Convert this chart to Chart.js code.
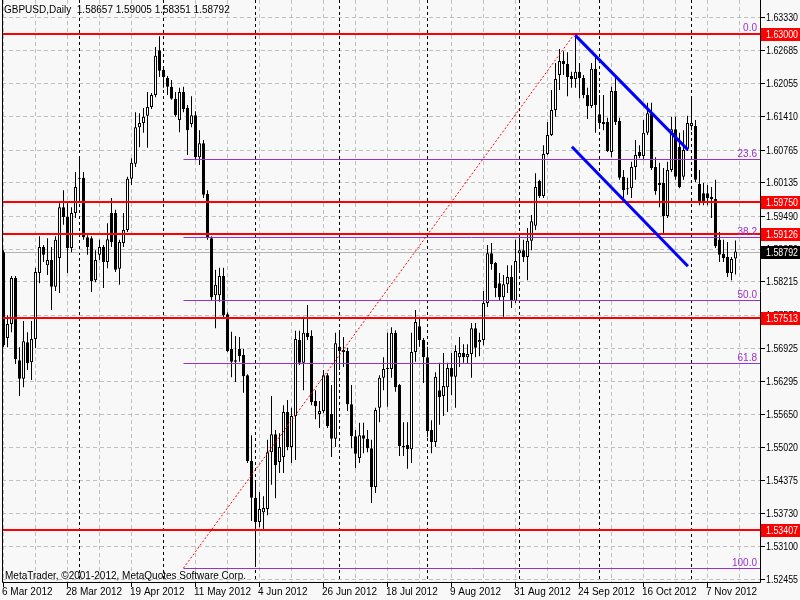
<!DOCTYPE html>
<html>
<head>
<meta charset="utf-8">
<title>GBPUSD,Daily</title>
<script src="https://cdn.jsdelivr.net/npm/chart.js@4.4.1/dist/chart.umd.min.js"></script>
<style>
  html, body { margin: 0; padding: 0; background: #f8f8f8; }
  #wrap { width: 800px; height: 600px; }
</style>
</head>
<body>
<div id="wrap"><canvas id="chart" width="800" height="600"></canvas></div>
<script>
// GBPUSD daily bars, 6 Mar 2012 .. 16 Nov 2012 (one value per trading day)
const openPrices = [
  1.5878, 1.5712, 1.5739, 1.5828, 1.5669, 1.5633, 1.5704, 1.5665, 1.5710, 1.5838,
  1.5888, 1.5853, 1.5863, 1.5811, 1.5867, 1.5965, 1.5946, 1.5886, 1.5954, 1.6020,
  1.6022, 1.5907, 1.5905, 1.5824, 1.5873, 1.5888, 1.5859, 1.5954, 1.5954, 1.5846,
  1.5896, 1.5921, 1.6020, 1.6049, 1.6120, 1.6128, 1.6142, 1.6159, 1.6182, 1.6269,
  1.6231, 1.6215, 1.6198, 1.6175, 1.6134, 1.6188, 1.6157, 1.6126, 1.6143, 1.6062,
  1.6089, 1.5991, 1.5905, 1.5795, 1.5795, 1.5832, 1.5758, 1.5691, 1.5669, 1.5691,
  1.5679, 1.5640, 1.5474, 1.5403, 1.5356, 1.5375, 1.5381, 1.5491, 1.5526, 1.5472,
  1.5482, 1.5569, 1.5501, 1.5561, 1.5708, 1.5664, 1.5722, 1.5716, 1.5590, 1.5565,
  1.5571, 1.5640, 1.5565, 1.5517, 1.5695, 1.5689, 1.5687, 1.5584, 1.5522, 1.5480,
  1.5524, 1.5517, 1.5499, 1.5424, 1.5577, 1.5635, 1.5652, 1.5652, 1.5722, 1.5621,
  1.5503, 1.5505, 1.5497, 1.5685, 1.5735, 1.5708, 1.5675, 1.5534, 1.5511, 1.5611,
  1.5600, 1.5617, 1.5654, 1.5637, 1.5675, 1.5683, 1.5675, 1.5681, 1.5731, 1.5704,
  1.5708, 1.5780, 1.5876, 1.5857, 1.5818, 1.5791, 1.5816, 1.5830, 1.5784, 1.5876,
  1.5882, 1.5869, 1.5900, 1.5929, 1.6016, 1.5987, 1.6068, 1.6105, 1.6153, 1.6221,
  1.6248, 1.6242, 1.6219, 1.6213, 1.6227, 1.6215, 1.6182, 1.6161, 1.6233, 1.6145,
  1.6130, 1.6130, 1.6072, 1.6190, 1.6132, 1.6024, 1.6000, 1.6002, 1.6043, 1.6072,
  1.6064, 1.6109, 1.6147, 1.6043, 1.6012, 1.6012, 1.5948, 1.6037, 1.6116, 1.6082,
  1.6024, 1.6078, 1.6122, 1.6122, 1.6010, 1.5992, 1.5992, 1.5985, 1.5981, 1.5902,
  1.5875, 1.5869, 1.5838, 1.58657
];
const highPrices = [
  1.5882, 1.5756, 1.5832, 1.5832, 1.5694, 1.5745, 1.5723, 1.5745, 1.5848, 1.5909,
  1.5892, 1.5905, 1.5888, 1.5909, 1.5973, 1.5998, 1.5973, 1.5965, 1.6033, 1.6060,
  1.6033, 1.5911, 1.5909, 1.5882, 1.5902, 1.5892, 1.5934, 1.5983, 1.5960, 1.5902,
  1.5954, 1.6024, 1.6060, 1.6149, 1.6147, 1.6157, 1.6188, 1.6186, 1.6275, 1.6296,
  1.6238, 1.6219, 1.6211, 1.6188, 1.6196, 1.6198, 1.6163, 1.6180, 1.6151, 1.6114,
  1.6095, 1.5998, 1.5909, 1.5844, 1.5848, 1.5848, 1.5762, 1.5724, 1.5716, 1.5714,
  1.5691, 1.5642, 1.5524, 1.5437, 1.5414, 1.5406, 1.5515, 1.5600, 1.5534, 1.5528,
  1.5582, 1.5592, 1.5577, 1.5726, 1.5726, 1.5753, 1.5776, 1.5727, 1.5611, 1.5590,
  1.5650, 1.5644, 1.5621, 1.5722, 1.5727, 1.5714, 1.5693, 1.5621, 1.5534, 1.5548,
  1.5548, 1.5534, 1.5515, 1.5577, 1.5640, 1.5675, 1.5722, 1.5733, 1.5727, 1.5623,
  1.5549, 1.5549, 1.5722, 1.5766, 1.5749, 1.5712, 1.5695, 1.5553, 1.5646, 1.5664,
  1.5683, 1.5664, 1.5683, 1.5698, 1.5714, 1.5700, 1.5700, 1.5741, 1.5741, 1.5722,
  1.5803, 1.5892, 1.5896, 1.5859, 1.5838, 1.5834, 1.5853, 1.5853, 1.5902, 1.5907,
  1.5902, 1.5925, 1.5950, 1.6031, 1.6018, 1.6085, 1.6130, 1.6192, 1.6244, 1.6271,
  1.6267, 1.6265, 1.6227, 1.6300, 1.6244, 1.6221, 1.6196, 1.6244, 1.6260, 1.6182,
  1.6182, 1.6138, 1.6198, 1.6217, 1.6138, 1.6037, 1.6022, 1.6053, 1.6095, 1.6085,
  1.6134, 1.6167, 1.6167, 1.6062, 1.6051, 1.6041, 1.6053, 1.6140, 1.6140, 1.6109,
  1.6114, 1.6142, 1.6176, 1.6134, 1.6037, 1.6012, 1.6008, 1.6004, 1.6018, 1.5917,
  1.5902, 1.5898, 1.5869, 1.59005
];
const lowPrices = [
  1.5694, 1.5694, 1.5723, 1.5662, 1.5600, 1.5617, 1.5650, 1.5631, 1.5692, 1.5818,
  1.5859, 1.5834, 1.5766, 1.5803, 1.5799, 1.5931, 1.5838, 1.5878, 1.5944, 1.5979,
  1.5902, 1.5873, 1.5801, 1.5820, 1.5863, 1.5809, 1.5847, 1.5888, 1.5840, 1.5815,
  1.5888, 1.5917, 1.6008, 1.6043, 1.6081, 1.6109, 1.6080, 1.6155, 1.6178, 1.6217,
  1.6196, 1.6182, 1.6173, 1.6140, 1.6110, 1.6149, 1.6066, 1.6120, 1.6056, 1.6047,
  1.5983, 1.5902, 1.5785, 1.5731, 1.5782, 1.5751, 1.5685, 1.5636, 1.5627, 1.5666,
  1.5606, 1.5470, 1.5358, 1.5269, 1.5346, 1.5340, 1.5369, 1.5428, 1.5402, 1.5451,
  1.5451, 1.5495, 1.5470, 1.5476, 1.5660, 1.5611, 1.5708, 1.5582, 1.5555, 1.5538,
  1.5567, 1.5538, 1.5482, 1.5501, 1.5650, 1.5656, 1.5571, 1.5499, 1.5460, 1.5470,
  1.5489, 1.5491, 1.5393, 1.5412, 1.5549, 1.5611, 1.5579, 1.5635, 1.5608, 1.5484,
  1.5484, 1.5459, 1.5470, 1.5666, 1.5695, 1.5625, 1.5520, 1.5489, 1.5501, 1.5544,
  1.5561, 1.5569, 1.5602, 1.5577, 1.5656, 1.5664, 1.5662, 1.5635, 1.5675, 1.5677,
  1.5698, 1.5772, 1.5844, 1.5791, 1.5785, 1.5753, 1.5799, 1.5770, 1.5780, 1.5844,
  1.5859, 1.5824, 1.5882, 1.5921, 1.5983, 1.5983, 1.6066, 1.6103, 1.6140, 1.6192,
  1.6221, 1.6180, 1.6196, 1.6196, 1.6176, 1.6176, 1.6136, 1.6157, 1.6109, 1.6122,
  1.6114, 1.6072, 1.6062, 1.6124, 1.6018, 1.5983, 1.5989, 1.5983, 1.6018, 1.6060,
  1.6056, 1.6105, 1.6037, 1.5989, 1.5965, 1.5915, 1.5944, 1.6033, 1.6018, 1.6002,
  1.6018, 1.6074, 1.6114, 1.6014, 1.5969, 1.5969, 1.5969, 1.5944, 1.5886, 1.5859,
  1.5859, 1.5830, 1.5824, 1.58351
];
const closePrices = [
  1.5698, 1.5739, 1.5828, 1.5671, 1.5633, 1.5706, 1.5663, 1.5710, 1.5840, 1.5888,
  1.5873, 1.5863, 1.5811, 1.5902, 1.5965, 1.5946, 1.5886, 1.5954, 1.6004, 1.6022,
  1.5907, 1.5888, 1.5822, 1.5863, 1.5888, 1.5859, 1.5903, 1.5898, 1.5844, 1.5898,
  1.5921, 1.6020, 1.6051, 1.6120, 1.6128, 1.6140, 1.6159, 1.6182, 1.6258, 1.6229,
  1.6217, 1.6198, 1.6175, 1.6143, 1.6188, 1.6155, 1.6114, 1.6143, 1.6062, 1.6089,
  1.5989, 1.5907, 1.5791, 1.5815, 1.5832, 1.5756, 1.5687, 1.5666, 1.5666, 1.5677,
  1.5638, 1.5474, 1.5403, 1.5356, 1.5381, 1.5383, 1.5491, 1.5526, 1.5466, 1.5501,
  1.5569, 1.5501, 1.5561, 1.5710, 1.5664, 1.5722, 1.5714, 1.5588, 1.5580, 1.5571,
  1.5640, 1.5542, 1.5517, 1.5702, 1.5687, 1.5685, 1.5584, 1.5522, 1.5488, 1.5524,
  1.5517, 1.5499, 1.5424, 1.5573, 1.5635, 1.5652, 1.5654, 1.5722, 1.5617, 1.5503,
  1.5501, 1.5497, 1.5685, 1.5743, 1.5708, 1.5675, 1.5532, 1.5511, 1.5637, 1.5598,
  1.5619, 1.5654, 1.5637, 1.5687, 1.5683, 1.5675, 1.5681, 1.5731, 1.5693, 1.5708,
  1.5780, 1.5876, 1.5855, 1.5809, 1.5791, 1.5816, 1.5830, 1.5784, 1.5861, 1.5882,
  1.5869, 1.5900, 1.5938, 1.6004, 1.5987, 1.6068, 1.6105, 1.6153, 1.6213, 1.6248,
  1.6242, 1.6217, 1.6213, 1.6227, 1.6215, 1.6182, 1.6161, 1.6233, 1.6163, 1.6128,
  1.6126, 1.6074, 1.6190, 1.6130, 1.6022, 1.5998, 1.6002, 1.6043, 1.6066, 1.6064,
  1.6109, 1.6147, 1.6041, 1.5996, 1.6008, 1.5948, 1.6037, 1.6116, 1.6024, 1.6004,
  1.6076, 1.6128, 1.6128, 1.6018, 1.5975, 1.5975, 1.5983, 1.5981, 1.5890, 1.5873,
  1.5867, 1.5838, 1.5865, 1.58792
];

// Axis ticks
const priceTicks = [1.63330, 1.62685, 1.62055, 1.61410, 1.60765, 1.60135, 1.59490, 1.58850, 1.58215,
                    1.57570, 1.56925, 1.56295, 1.55650, 1.55020, 1.54375, 1.53730, 1.53100, 1.52455];
const dateTickBars = [0, 16, 32, 48, 64, 80, 96, 112, 128, 144, 160, 176];
const dateTickLabels = ["6 Mar 2012", "28 Mar 2012", "19 Apr 2012", "11 May 2012", "4 Jun 2012", "26 Jun 2012",
                        "18 Jul 2012", "9 Aug 2012", "31 Aug 2012", "24 Sep 2012", "16 Oct 2012", "7 Nov 2012"];
const monthStartBars = [19, 40, 63, 84, 106, 129, 149, 172];

// Objects drawn on the chart
const levelPrices = [1.63000, 1.59750, 1.59126, 1.57513, 1.53407];
const bidPrice = 1.58792;
const fibRatios = [0, 23.6, 38.2, 50, 61.8, 100];
const fibAnchorBars = [45, 143];
const fibAnchorPrices = [1.5267, 1.6303];
const channelUpperBars = [142.9, 171.1];
const channelUpperPrices = [1.6298, 1.6076];
const channelLowerBars = [142.1, 171.1];
const channelLowerPrices = [1.6082, 1.5851];

const colors = {
  grid: '#c0c0c0',
  level: '#ff0000',
  fib: '#9932cc',
  channel: '#0000ff',
  bid: '#b4b4b4',
  text: '#000000'
};
const FONT = "10px 'Liberation Sans', Arial, sans-serif";
const AXIS_TEXT_W = 32;

const X_MIN = -0.375, X_MAX = 189.125;
const barIdx = openPrices.map((_, i) => i);
const fibPrice = r => fibAnchorPrices[1] - (fibAnchorPrices[1] - fibAnchorPrices[0]) * r / 100;

// horizontal lines get snapped to whole pixels after layout (see snapLines)
function hline(price, color, width, order, fromBar) {
  return {
    type: 'line',
    data: [{ x: fromBar === undefined ? X_MIN : fromBar, y: price }, { x: X_MAX, y: price }],
    borderColor: color, borderWidth: width, pointRadius: 0, fill: false, order, snap: true
  };
}
function segment(bars, prices, color, width, order, dash) {
  return {
    type: 'line',
    data: bars.map((b, k) => ({ x: b, y: prices[k] })),
    borderColor: color, borderWidth: width, borderDash: dash || [], pointRadius: 0, fill: false, order
  };
}

const datasets = [
  {
    type: 'bar',
    data: barIdx.map(i => ({ x: i, y: [openPrices[i], closePrices[i]] })),
    backgroundColor: ctx => closePrices[ctx.dataIndex] >= openPrices[ctx.dataIndex] ? '#ffffff' : '#000000',
    borderColor: '#000000', borderWidth: 1, borderSkipped: false,
    barThickness: 3, grouped: false, minBarLength: 1, inflateAmount: 0, order: 5
  },
  {
    type: 'bar',
    data: barIdx.map(i => ({ x: i, y: [lowPrices[i], highPrices[i]] })),
    backgroundColor: '#000000', borderWidth: 0,
    barThickness: 1, grouped: false, inflateAmount: 0, order: 6
  },
  hline(bidPrice, colors.bid, 1, 7)
];
fibRatios.forEach(r => datasets.push(hline(fibPrice(r), colors.fib, 1, 3, fibAnchorBars[0])));
datasets.push(segment(fibAnchorBars, fibAnchorPrices, colors.level, 1, 2, [2, 2]));
levelPrices.forEach(p => datasets.push(hline(p, colors.level, 2, 2)));
datasets.push(segment(channelUpperBars, channelUpperPrices, colors.channel, 3, 1));
datasets.push(segment(channelLowerBars, channelLowerPrices, colors.channel, 3, 1));

function priceBox(ctx, py, label, bg) {
  ctx.fillStyle = bg;
  ctx.fillRect(761, Math.round(py) - 6, 39, 13);
  ctx.fillStyle = '#ffffff';
  ctx.fillText(label, 766, Math.round(py) + 4, AXIS_TEXT_W);
}

const snapLines = {
  id: 'snapLines',
  afterDatasetsUpdate(chart) {
    chart.data.datasets.forEach((ds, i) => {
      if (!ds.snap) return;
      const odd = ds.borderWidth % 2 === 1;
      chart.getDatasetMeta(i).data.forEach(pt => {
        pt.y = Math.round(pt.y) + (odd ? 0.5 : 0);
      });
    });
  }
};

const mtDecor = {
  id: 'mtDecor',
  beforeDatasetsDraw(chart) {
    const { ctx, chartArea: a, scales: { x, y } } = chart;
    ctx.save();
    ctx.lineWidth = 1;
    ctx.strokeStyle = colors.grid;
    ctx.setLineDash([4, 3]);
    priceTicks.forEach(p => {
      const py = Math.round(y.getPixelForValue(p)) + 0.5;
      ctx.beginPath(); ctx.moveTo(a.left, py); ctx.lineTo(a.right, py); ctx.stroke();
    });
    for (let b = 0; b <= openPrices.length; b += 8) {
      if (monthStartBars.includes(b)) continue;
      const px = Math.floor(x.getPixelForValue(b)) + 0.5;
      ctx.beginPath(); ctx.moveTo(px, a.top); ctx.lineTo(px, a.bottom); ctx.stroke();
    }
    ctx.strokeStyle = '#000000';
    ctx.setLineDash([3, 3]);
    monthStartBars.forEach(b => {
      const px = Math.floor(x.getPixelForValue(b)) + 0.5;
      ctx.beginPath(); ctx.moveTo(px, a.top); ctx.lineTo(px, a.bottom); ctx.stroke();
    });
    ctx.restore();
  },
  afterDatasetsDraw(chart) {
    const { ctx, chartArea: a, scales: { x, y } } = chart;
    ctx.save();
    ctx.lineWidth = 1;
    ctx.strokeStyle = '#000000';
    ctx.setLineDash([]);
    // frame: left edge, bottom axis, right price axis
    ctx.beginPath();
    ctx.moveTo(a.left + 0.5, a.top); ctx.lineTo(a.left + 0.5, a.bottom + 0.5);
    ctx.lineTo(a.right + 0.5, a.bottom + 0.5); ctx.lineTo(a.right + 0.5, a.top);
    ctx.stroke();

    ctx.font = FONT;
    ctx.fillStyle = colors.text;
    ctx.textBaseline = 'alphabetic';

    // price axis
    ctx.textAlign = 'left';
    priceTicks.forEach(p => {
      const py = Math.round(y.getPixelForValue(p));
      ctx.beginPath(); ctx.moveTo(a.right + 1, py + 0.5); ctx.lineTo(a.right + 5, py + 0.5); ctx.stroke();
      ctx.fillText(p.toFixed(5), 766, py + 4, AXIS_TEXT_W);
    });

    // date axis
    dateTickBars.forEach((b, k) => {
      const px = Math.floor(x.getPixelForValue(b)) + 0.5;
      ctx.beginPath(); ctx.moveTo(px, a.bottom + 1); ctx.lineTo(px, a.bottom + 5); ctx.stroke();
      ctx.fillText(dateTickLabels[k], px - 1.5, 595);
    });

    // fibonacci level labels
    ctx.fillStyle = colors.fib;
    ctx.textAlign = 'right';
    fibRatios.forEach(r => {
      const py = y.getPixelForValue(fibPrice(r));
      ctx.fillText(r.toFixed(1), 757, Math.round(py) - 2);
    });

    // level and bid boxes on the price axis
    ctx.textAlign = 'left';
    levelPrices.forEach(p => priceBox(ctx, y.getPixelForValue(p), p.toFixed(5), colors.level));
    priceBox(ctx, y.getPixelForValue(bidPrice), bidPrice.toFixed(5), '#000000');

    // header and footer text
    const n = openPrices.length - 1;
    ctx.fillStyle = colors.text;
    ctx.fillText('GBPUSD,Daily  ' + [openPrices[n], highPrices[n], lowPrices[n], closePrices[n]]
      .map(v => v.toFixed(5)).join(' '), 4, 13);
    ctx.fillText('MetaTrader, \u00a92001-2012, MetaQuotes Software Corp.', 5, 579);
    ctx.restore();
  }
};

new Chart(document.getElementById('chart').getContext('2d'), {
  type: 'bar',
  data: { datasets },
  options: {
    responsive: false,
    maintainAspectRatio: false,
    devicePixelRatio: 1,
    animation: false,
    events: [],
    layout: { padding: { left: 2, right: 40, top: 0, bottom: 18 } },
    plugins: { legend: { display: false }, tooltip: { enabled: false } },
    scales: {
      x: { type: 'linear', display: false, offset: false, min: X_MIN, max: X_MAX },
      y: { type: 'linear', display: false, min: 1.5240, max: 1.6366 }
    }
  },
  plugins: [snapLines, mtDecor]
});
</script>
</body>
</html>
